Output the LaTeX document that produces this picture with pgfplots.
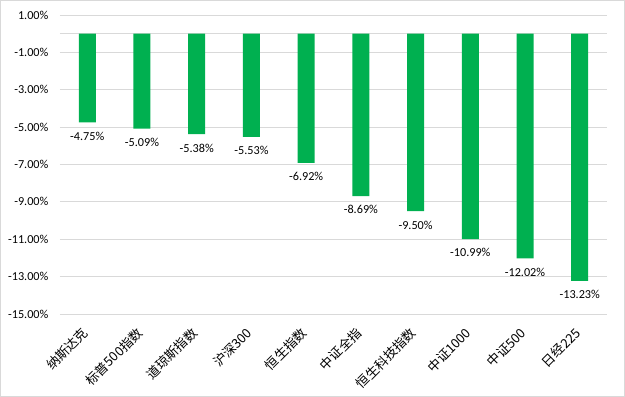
\documentclass[border=0pt]{standalone}
\usepackage{pgfplots}
\pgfplotsset{compat=1.18}
\usepackage{fontspec}
\setmainfont{Carlito}
\newfontfamily\cjk{Noto Sans CJK SC}
\definecolor{bargreen}{HTML}{00B050}
\definecolor{gridgray}{HTML}{D9D9D9}
\begin{document}
\begin{tikzpicture}[x=1pt,y=1pt]
\begin{axis}[
  at={(60pt,83pt)}, anchor=south west,
  scale only axis, width=547pt, height=299pt,
  ybar, bar width=17pt,
  xmin=-0.5, xmax=9.5,
  ymin=-15, ymax=1,
  ytick={1,-1,-3,-5,-7,-9,-11,-13,-15},
  extra y ticks={0}, extra y tick labels={},
  extra y tick style={grid=major},
  ymajorgrids, major grid style={gridgray, line width=0.8pt},
  axis line style={draw=none},
  major tick length=0pt,
  /pgf/number format/assume math mode=true,
  yticklabel={\pgfmathprintnumber[fixed,zerofill,precision=2]{\tick}\%},
  yticklabel style={font=\fontsize{12.2}{14}\selectfont, xshift=-8pt},
  xtick=data,
  xticklabels={纳斯达克,标普500指数,道琼斯指数,沪深300,恒生指数,中证全指,恒生科技指数,中证1000,中证500,日经225},
  xticklabel style={font=\cjk\fontsize{13}{15}\selectfont, rotate=45, anchor=east, inner sep=0pt, xshift=-13pt, yshift=-10.5pt},
  nodes near coords={\pgfmathprintnumber[fixed,zerofill,precision=2]{\pgfplotspointmeta}\%},
  nodes near coords style={font=\fontsize{12.2}{14}\selectfont, text=black, yshift=-6pt},
  clip=false,
]
\addplot[fill=bargreen, draw=none] coordinates {
(0,-4.75) (1,-5.09) (2,-5.38) (3,-5.53) (4,-6.92) (5,-8.69) (6,-9.50) (7,-10.99) (8,-12.02) (9,-13.23)};
\end{axis}
\draw[gridgray, line width=0.8pt] (0.5,0.5) rectangle (624.5,396.5);
\end{tikzpicture}
\end{document}
